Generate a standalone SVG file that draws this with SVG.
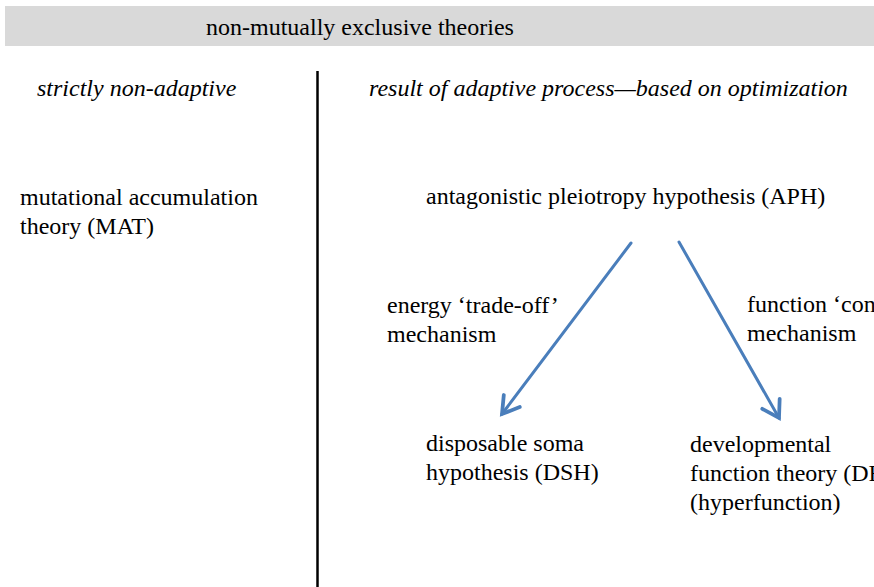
<svg xmlns="http://www.w3.org/2000/svg" width="874" height="587" viewBox="0 0 874 587">
<defs>
<style>
text{font-family:"Liberation Serif","Times New Roman",serif;font-size:24px;fill:#000}
.it{font-style:italic}
.arrow{stroke:#4a7ebb;stroke-width:3;fill:none;stroke-linecap:round}
</style>
<marker id="ah" markerUnits="userSpaceOnUse" markerWidth="30" markerHeight="30" refX="0" refY="0" viewBox="-16 -12 20 24" orient="auto" overflow="visible">
<path d="M-13,-8 L0,0 L-13,8" fill="none" stroke="#4a7ebb" stroke-width="3" stroke-linecap="round" stroke-linejoin="miter"/>
</marker>
</defs>
<rect width="874" height="587" fill="#fff"/>
<g id="header">
<rect x="5" y="6" width="869" height="40" fill="#d9d9d9"/>
<text x="206" y="35">non-mutually exclusive theories</text>
</g>
<g id="divider">
<line x1="317.5" y1="71" x2="317.5" y2="587" stroke="#000" stroke-width="2.5"/>
</g>
<g id="label-nonadaptive"><text class="it" x="37" y="96">strictly non-adaptive</text></g>
<g id="label-adaptive"><text class="it" x="369" y="96">result of adaptive process—based on optimization</text></g>
<g id="node-MAT"><text x="20" y="205">mutational accumulation</text><text x="20" y="234">theory (MAT)</text></g>
<g id="node-APH"><text x="426" y="204">antagonistic pleiotropy hypothesis (APH)</text></g>
<g id="label-energy"><text x="387" y="313">energy ‘trade-off’</text><text x="387" y="342">mechanism</text></g>
<g id="label-function"><text x="747" y="312">function ‘con</text><text x="747" y="341">mechanism</text></g>
<g id="node-DSH"><text x="426" y="451">disposable soma</text><text x="426" y="480">hypothesis (DSH)</text></g>
<g id="node-DFT"><text x="690" y="452">developmental</text><text x="690" y="481">function theory (DF</text><text x="690" y="510">(hyperfunction)</text></g>
<g id="connectors">
<line class="arrow" x1="631" y1="243" x2="502" y2="414" marker-end="url(#ah)"/>
<line class="arrow" x1="679" y1="242" x2="779" y2="418" marker-end="url(#ah)"/>
</g>
</svg>
